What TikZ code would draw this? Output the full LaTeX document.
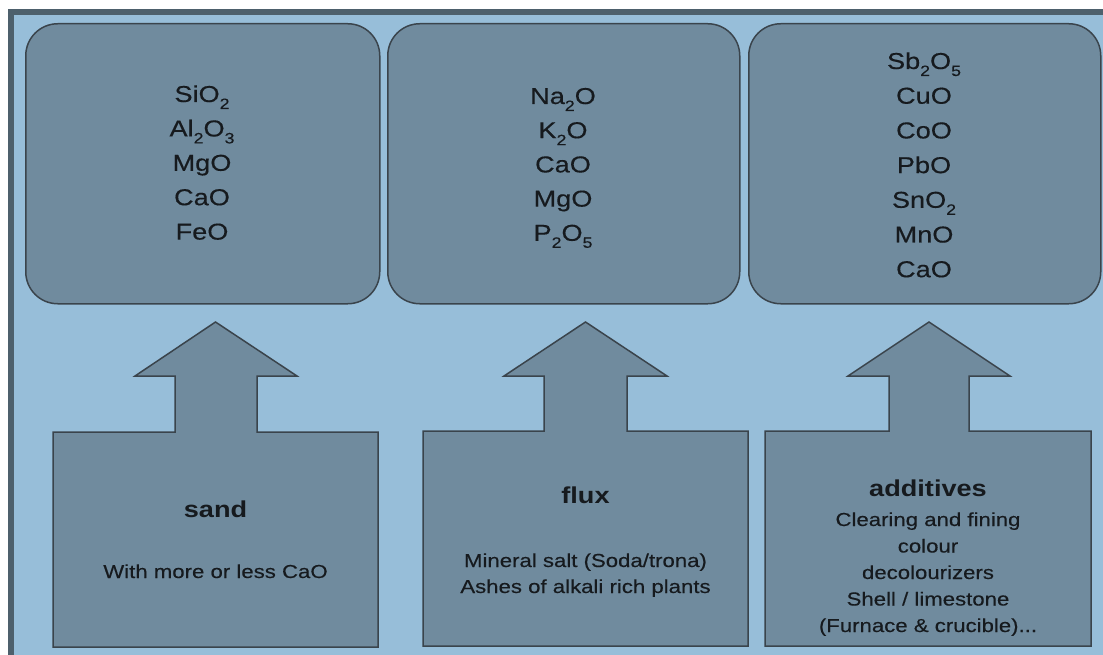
\documentclass[tikz,border=0pt]{standalone}
\usepackage{fontspec}
\setmainfont[FakeStretch=1.18, UprightFeatures={FakeBold=0.35}]{Liberation Sans}
\definecolor{bgblue}{RGB}{151,190,217}
\definecolor{framec}{RGB}{77,96,108}
\definecolor{boxc}{RGB}{112,139,158}
\definecolor{outl}{RGB}{58,68,76}
\definecolor{txt}{RGB}{22,26,30}
\newcommand\lowidx[1]{\raisebox{-7pt}{\fontsize{15}{15}\selectfont #1}}
\begin{document}
\begin{tikzpicture}[x=1pt,y=-1pt,
  topbox/.style={draw=outl, fill=boxc, line width=1.5pt, rounded corners=32pt, anchor=north west, inner sep=0pt},
  srcshape/.style={draw=outl, fill=boxc, line width=1.5pt, line join=miter},
  oxide/.style={anchor=base, text=txt, inner sep=0pt, font=\fontsize{23}{28}\selectfont},
  ttl/.style={anchor=base, text=txt, inner sep=0pt, font=\fontsize{23}{28}\selectfont\bfseries},
  sub/.style={anchor=base, text=txt, inner sep=0pt, font=\fontsize{18.8}{24}\selectfont}]
\useasboundingbox (0,0) rectangle (1103,655);
\fill[white] (0,0) rectangle (1103,655);
\fill[framec] (8,9) rectangle (1103,655);
\fill[bgblue] (14,15) rectangle (1103,655);

% top boxes
\node[topbox, minimum width=354pt, minimum height=280pt] (b1) at (25,23) {};
\node[topbox, minimum width=352pt, minimum height=280pt] (b2) at (387,23) {};
\node[topbox, minimum width=352pt, minimum height=280pt] (b3) at (748,23) {};

\foreach \t [count=\i] in {{SiO\lowidx{2}},{Al\lowidx{2}O\lowidx{3}},{MgO},{CaO},{FeO}}
  \node[oxide] (ox1-\i) at (202,{102+34.4*(\i-1)}) {\t};
\foreach \t [count=\i] in {{Na\lowidx{2}O},{K\lowidx{2}O},{CaO},{MgO},{P\lowidx{2}O\lowidx{5}}}
  \node[oxide] (ox2-\i) at (563,{104+34.2*(\i-1)}) {\t};
\foreach \t [count=\i] in {{Sb\lowidx{2}O\lowidx{5}},{CuO},{CoO},{PbO},{SnO\lowidx{2}},{MnO},{CaO}}
  \node[oxide] (ox3-\i) at (924,{69+34.7*(\i-1)}) {\t};

% bottom arrow-boxes
\draw[srcshape] (53,432) -- (175,432) -- (175,376) -- (135,376) -- (215.5,322) -- (297,376) -- (257,376) -- (257,432) -- (378,432) -- (378,647) -- (53,647) -- cycle;
\draw[srcshape] (423,431) -- (544,431) -- (544,376) -- (504,376) -- (585.5,322) -- (667,376) -- (627,376) -- (627,431) -- (748,431) -- (748,646) -- (423,646) -- cycle;
\draw[srcshape] (765,431) -- (889,431) -- (889,376) -- (848,376) -- (929,322) -- (1010,376) -- (969,376) -- (969,431) -- (1091,431) -- (1091,646) -- (765,646) -- cycle;

\node[ttl] (sand) at (215.5,517) {sand};
\node[sub] (sand1) at (215.5,578) {With more or less CaO};

\node[ttl] (flux) at (585.5,503) {flux};
\node[sub] (flux1) at (585.5,567) {Mineral salt (Soda/trona)};
\node[sub] (flux2) at (585.5,593) {Ashes of alkali rich plants};

\node[ttl] (add) at (928,496) {additives};
\foreach \t [count=\i] in {{Clearing and fining},{colour},{decolourizers},{Shell / limestone},{(Furnace \& crucible).\kern0pt.\kern0pt.}}
  \node[sub] (add-\i) at (928,{526+26.5*(\i-1)}) {\t};
\end{tikzpicture}
\end{document}
